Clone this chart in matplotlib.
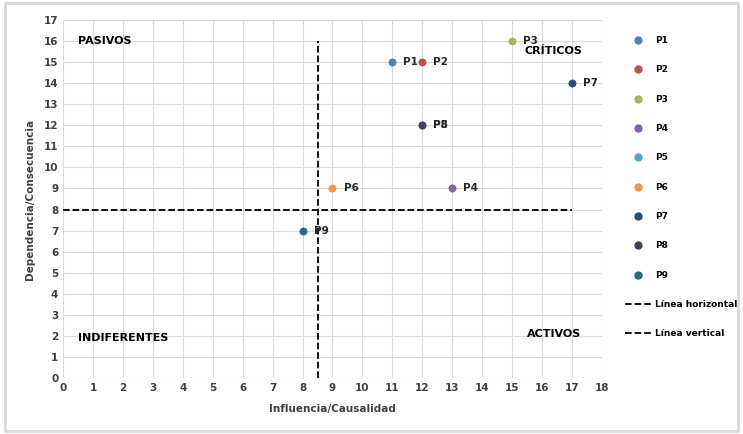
import matplotlib
matplotlib.use("Agg")
import matplotlib.pyplot as plt
from matplotlib.lines import Line2D

# data
names = ["P1", "P2", "P3", "P4", "P5", "P6", "P7", "P8", "P9"]
influencia = [11, 12, 15, 13, 12, 9, 17, 12, 8]
dependencia = [15, 15, 16, 9, 12, 9, 14, 12, 7]
colors = ["#4F81BD", "#C0504D", "#9BBB59", "#8064A2", "#4BACC6",
          "#F79646", "#2C4D75", "#4D3B62", "#276A7C"]

horiz_x = [0, 17]
horiz_y = [8, 8]
vert_x = [8.5, 8.5]
vert_y = [0, 16]

quadrants = [("PASIVOS", 0.5, 16), ("CRÍTICOS", 15.4, 15.55),
             ("INDIFERENTES", 0.5, 1.9), ("ACTIVOS", 15.5, 2.1)]

fig = plt.figure(figsize=(7.43, 4.34), dpi=100)
fig.patches.append(plt.Rectangle((0.007, 0.007), 0.986, 0.986, transform=fig.transFigure,
                                 fill=False, edgecolor="#d9d9d9", linewidth=2))
ax = fig.add_axes([0.085, 0.129, 0.725, 0.825])

for n, x, y, c in zip(names, influencia, dependencia, colors):
    ax.scatter([x], [y], s=22, color=c, zorder=3, label=n)
    ax.annotate(n, (x, y), xytext=(8, 0), textcoords="offset points", va="center",
                fontsize=7.5, fontweight="bold", color="#262626")

ax.plot(horiz_x, horiz_y, color="black", linestyle="--", linewidth=1.3, zorder=2)
ax.plot(vert_x, vert_y, color="black", linestyle="--", linewidth=1.3, zorder=2)

for t, x, y in quadrants:
    ax.text(x, y, t, fontsize=8, fontweight="bold", va="center", ha="left", color="black")

ax.set_xlim(0, 18)
ax.set_ylim(0, 17)
ax.set_xticks(range(0, 19))
ax.set_yticks(range(0, 18))
ax.grid(True, color="#d9d9d9", linewidth=0.8)
ax.set_axisbelow(True)
for s in ax.spines.values():
    s.set_visible(False)
ax.tick_params(length=0, labelsize=7.5, colors="#404040")
for lab in ax.get_xticklabels() + ax.get_yticklabels():
    lab.set_fontweight("bold")
ax.set_xlabel("Influencia/Causalidad", fontsize=7.5, fontweight="bold", color="#404040", labelpad=8)
ax.set_ylabel("Dependencia/Consecuencia", fontsize=7.5, fontweight="bold", color="#404040", labelpad=6)

handles = [Line2D([], [], marker="o", linestyle="none", markersize=5, color=c) for c in colors]
handles += [Line2D([], [], color="black", linestyle="--", linewidth=1.3)] * 2
labels = names + ["Línea horizontal", "Línea vertical"]
leg = fig.legend(handles, labels, loc="upper left", bbox_to_anchor=(0.836, 0.925),
                 frameon=False, labelspacing=2.25, handlelength=3.0, handletextpad=0.4,
                 borderaxespad=0, prop={"weight": "bold", "size": 6.5})

fig.savefig("out.png", dpi=100)
